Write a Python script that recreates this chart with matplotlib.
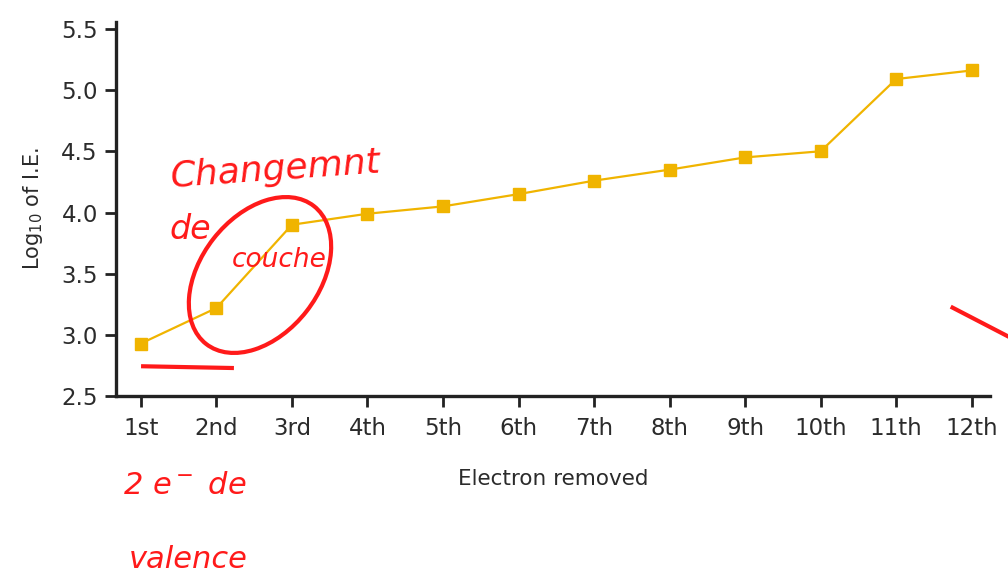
import numpy as np
import matplotlib.pyplot as plt
from matplotlib.patches import Ellipse

# data
electrons = ['1st', '2nd', '3rd', '4th', '5th', '6th', '7th', '8th', '9th', '10th', '11th', '12th']
log_ie = [2.93, 3.22, 3.90, 3.99, 4.05, 4.15, 4.26, 4.35, 4.45, 4.50, 5.09, 5.16]
yticks = [2.5, 3.0, 3.5, 4.0, 4.5, 5.0, 5.5]

txt = '#2b2b2b'
red = '#ff1a1a'

fig = plt.figure(figsize=(10.08, 5.75), dpi=100)
ax = fig.add_axes([0.115, 0.311, 0.867, 0.651])

x = np.arange(len(electrons))
ax.plot(x, log_ie, color='#f0b400', lw=1.6, marker='s', markersize=8.5,
        markeredgecolor='#f0b400', markerfacecolor='#f0b400', zorder=3)

ax.set_xlim(-0.33, 11.24)
ax.set_ylim(2.5, 5.557)
ax.set_xticks(x)
ax.set_xticklabels(electrons)
ax.set_yticks(yticks)
ax.set_yticklabels(['%.1f' % v for v in yticks])

for s in ['top', 'right']:
    ax.spines[s].set_visible(False)
for s in ['left', 'bottom']:
    ax.spines[s].set_linewidth(2.4)
    ax.spines[s].set_color('#222222')
ax.tick_params(axis='both', direction='out', length=8, width=2, color='#222222',
               labelsize=16.5, labelcolor=txt, pad=5)
ax.tick_params(axis='x', pad=7)

ax.set_xlabel('Electron removed', fontsize=15.5, color=txt, labelpad=21)
ax.set_ylabel('Log$_{10}$ of I.E.', fontsize=15, color=txt, labelpad=12)

# handwritten red notes
fig.text(0.168, 0.675, 'Changemnt', color=red, fontsize=26, style='italic', rotation=4)
fig.text(0.168, 0.585, 'de', color=red, fontsize=24, style='italic')
fig.text(0.230, 0.535, 'couche', color=red, fontsize=19, style='italic')
# ellipse in inches (pixels / 100, measured from bottom)
fig.patches.append(Ellipse((2.60, 3.0), 1.75, 1.18, angle=52, fill=False,
                           edgecolor=red, lw=3, transform=fig.dpi_scale_trans))
fig.lines.append(plt.Line2D([0.142, 0.23], [0.363, 0.36], color=red, lw=3,
                            transform=fig.transFigure))
fig.lines.append(plt.Line2D([0.945, 1.0], [0.465, 0.415], color=red, lw=3,
                            transform=fig.transFigure))
fig.text(0.122, 0.14, '2 e$^-$ de', color=red, fontsize=22, style='italic')
fig.text(0.128, 0.012, 'valence', color=red, fontsize=22, style='italic')

fig.savefig('out.png', dpi=100)
